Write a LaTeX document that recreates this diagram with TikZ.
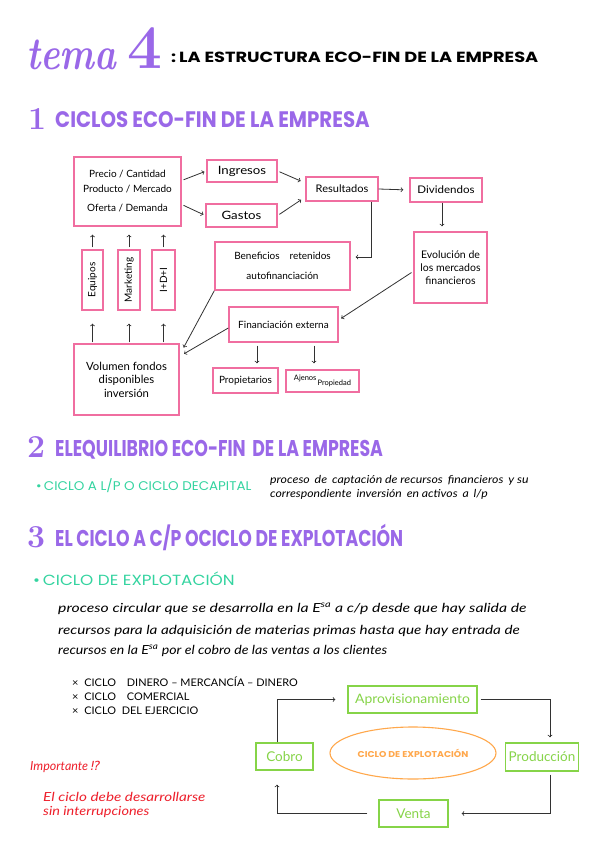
\documentclass[tikz,border=0pt]{standalone}
\usepackage{fontspec}
\newfontfamily\headfont{Poppins}
\newfontfamily\handfont{Lato}
\newfontfamily\symfont{DejaVu Sans}
\usetikzlibrary{calc,shapes.geometric}
\definecolor{temapurple}{RGB}{154,104,232}
\definecolor{boxpink}{RGB}{240,110,160}
\definecolor{cicloteal}{RGB}{52,212,160}
\definecolor{boxgreen}{RGB}{134,212,72}
\definecolor{elipseorange}{RGB}{255,168,76}
\definecolor{notared}{RGB}{238,32,44}
\definecolor{flechagray}{RGB}{50,50,50}

\begin{document}
\begin{tikzpicture}[x=1pt,y=-1pt,
  pinkbox/.style={draw=boxpink,line width=1.4pt,inner sep=2pt,align=center,font=\handfont\fontsize{10}{12}\selectfont},
  greenbox/.style={draw=boxgreen,line width=1.4pt,text=boxgreen,font=\handfont\fontsize{13.5}{15}\selectfont},
  flecha/.style={draw=flechagray,line width=0.8pt,->},
  numero/.style={anchor=base west,inner sep=0pt,text=temapurple,font=\bfseries\fontsize{32}{32}\selectfont},
  titulo/.style={anchor=base west,inner sep=0pt,text=temapurple,font=\headfont\bfseries\fontsize{19}{19}\selectfont},
  ciclo/.style={anchor=base west,inner sep=0pt,text=cicloteal,font=\headfont\fontsize{12}{12}\selectfont},
  nota/.style={anchor=base west,inner sep=0pt,font=\handfont\itshape\fontsize{12.5}{14}\selectfont},
  lista/.style={anchor=base west,inner sep=0pt,font=\handfont\fontsize{10.5}{12}\selectfont}]
\useasboundingbox (0,0) rectangle (599,848);
\fill[white] (0,0) rectangle (599,848);
\node[anchor=base west,inner sep=0pt,text=temapurple,font=\bfseries\itshape\fontsize{46}{46}\selectfont] (tema) at (26,70) {\scalebox{0.8}[1]{tema}};
\node[anchor=base west,inner sep=0pt,text=temapurple,font=\bfseries\fontsize{62}{62}\selectfont] (cuatro) at (127,69) {4};
\node[anchor=base west,inner sep=0pt,font=\headfont\bfseries\fontsize{14}{14}\selectfont] (temanombre) at (171,63) {\scalebox{1.27}[1.05]{:\,LA ESTRUCTURA ECO-FIN DE LA EMPRESA}};
\node[numero] (num1) at (28,129) {1};
\node[titulo] (sec1) at (55,128) {\scalebox{1.04}[1.18]{CICLOS ECO-FIN DE LA EMPRESA}};
\node[pinkbox,minimum width=107pt,minimum height=69pt] (mercado) at (127.5,191.5) {Precio / Cantidad\\[3pt]Producto / Mercado\\[7pt]Oferta / Demanda};
\node[pinkbox,minimum width=70pt,minimum height=22pt,font=\handfont\fontsize{11.5}{12}\selectfont] (ingresos) at (242,171) {\scalebox{1.15}[1]{Ingresos}};
\node[pinkbox,minimum width=71pt,minimum height=23pt,font=\handfont\fontsize{11.5}{12}\selectfont] (gastos) at (241.5,215.5) {\scalebox{1.15}[1]{Gastos}};
\node[pinkbox,minimum width=72pt,minimum height=24pt,font=\handfont\fontsize{10.5}{12}\selectfont] (resultados) at (342,189) {\scalebox{1.05}[1]{Resultados}};
\node[pinkbox,minimum width=72pt,minimum height=24pt,font=\handfont\fontsize{10.5}{12}\selectfont] (dividendos) at (446,190) {\scalebox{1.1}[1]{Dividendos}};
\node[pinkbox,minimum width=73pt,minimum height=71pt,font=\handfont\fontsize{10.5}{13}\selectfont] (evolucion) at (450.5,267.5) {Evolución de\\los mercados\\financieros};
\node[pinkbox,minimum width=135pt,minimum height=48pt] (beneficios) at (282.5,266) {Beneficios\quad retenidos\\[8pt]autofinanciación};
\node[pinkbox,minimum width=109pt,minimum height=35pt] (financiacion) at (283.5,324.5) {Financiación externa};
\node[pinkbox,minimum width=65pt,minimum height=25pt] (propietarios) at (245.5,380.5) {Propietarios};
\node[pinkbox,minimum width=73pt,minimum height=22pt,font=\handfont\fontsize{7.5}{8}\selectfont] (ajenos) at (322.5,381) {\raisebox{3pt}{Ajenos}\,\raisebox{-2.5pt}{Propiedad}};
\node[pinkbox,minimum width=105pt,minimum height=71pt,font=\handfont\fontsize{11.3}{13.5}\selectfont] (volumen) at (126.5,379.5) {Volumen fondos\\disponibles\\inversión};
\node[pinkbox,rotate=90,minimum width=60pt,minimum height=21pt] (equipos) at (92.5,280) {Equipos};
\node[pinkbox,rotate=90,minimum width=60pt,minimum height=22pt] (marketing) at (129,280) {Marketing};
\node[pinkbox,rotate=90,minimum width=60pt,minimum height=23pt] (imasd) at (163.5,280) {I+D+I};
\draw[flecha,shorten <=2pt,shorten >=2pt] ($(mercado.east)+(0,-11)$) -- (ingresos.west);
\draw[flecha,shorten <=2pt,shorten >=2pt] ($(mercado.east)+(0,13)$) -- (gastos.west);
\draw[flecha,shorten <=2pt,shorten >=5pt] (ingresos.east) -- ($(resultados.west)+(0,-6)$);
\draw[flecha,shorten <=2pt,shorten >=5pt] (gastos.east) -- ($(resultados.west)+(0,8)$);
\draw[flecha,shorten >=6pt] (resultados.east) -- (dividendos.west);
\draw[flecha,shorten >=5pt] ($(dividendos.south)+(-4,0)$) -- ($(evolucion.north)+(-8.5,0)$);
\draw[flecha,shorten >=5pt] ($(resultados.south)+(29,0)$) |- ($(beneficios.east)+(0,-9)$);
\draw[flecha,shorten <=1pt,shorten >=3pt] ($(evolucion.west)+(-1,4.5)$) -- ($(financiacion.east)+(0,-4.5)$);
\draw[flecha,shorten >=2pt] (beneficios.south west) -- ($(volumen.north east)+(3,6)$);
\draw[flecha,shorten >=5pt] ($(financiacion.west)+(0,3.5)$) -- ($(volumen.north east)+(0,13)$);
\draw[flecha,shorten <=3pt,shorten >=4pt] ($(financiacion.south)+(-26.5,0)$) -- ($(propietarios.north)+(11.5,0)$);
\draw[flecha,shorten <=3pt,shorten >=6pt] ($(financiacion.south)+(30.5,0)$) -- ($(ajenos.north)+(-8.5,0)$);
\draw[flecha,shorten <=2pt,shorten >=8pt] (equipos) -- (equipos |- mercado.south);
\draw[flecha,shorten <=2pt,shorten >=8pt] (marketing) -- (marketing |- mercado.south);
\draw[flecha,shorten <=2pt,shorten >=8pt] (imasd) -- (imasd |- mercado.south);
\draw[flecha,shorten <=1pt,shorten >=13pt] (volumen.north -| equipos) -- (equipos);
\draw[flecha,shorten <=1pt,shorten >=13pt] (volumen.north -| marketing) -- (marketing);
\draw[flecha,shorten <=1pt,shorten >=13pt] (volumen.north -| imasd) -- (imasd);
\node[numero] (num2) at (27,457) {2};
\node[titulo] (sec2) at (55,456) {\scalebox{0.913}[1.2]{ELEQUILIBRIO ECO-FIN\, DE LA EMPRESA}};
\node[ciclo] (largo) at (36,490) {\scalebox{1.12}[1.05]{•\,CICLO A L/P O CICLO DECAPITAL}};
\node[nota,font=\handfont\itshape\fontsize{11}{12}\selectfont] (largo1) at (270,483) {\scalebox{1.12}[1]{proceso\, de\, captación de recursos\, financieros\, y su}};
\node[nota,font=\handfont\itshape\fontsize{11}{12}\selectfont] (largo2) at (270,497) {\scalebox{1.11}[1]{correspondiente\, inversión\, en activos\, a\, l/p}};
\node[numero] (num3) at (27,547) {3};
\node[titulo] (sec3) at (55,546) {\scalebox{0.909}[1.2]{EL CICLO A C/P OCICLO DE EXPLOTACIÓN}};
\node[ciclo,font=\headfont\fontsize{14}{14}\selectfont] (explota) at (33,585) {\scalebox{1.2}[1.05]{•\,CICLO DE EXPLOTACIÓN}};
\node[nota] (parrafo1) at (58,612) {\scalebox{1.26}[1]{proceso circular que se desarrolla en la E\textsuperscript{sa} a c/p desde que hay salida de}};
\node[nota] (parrafo2) at (58,634) {\scalebox{1.22}[1]{recursos para la adquisición de materias primas hasta que hay entrada de}};
\node[nota] (parrafo3) at (58,654) {\scalebox{1.13}[1]{recursos en la E\textsuperscript{sa} por el cobro de las ventas a los clientes}};
\node[lista] (lista1) at (72,686) {\scalebox{1.04}[1]{×\; CICLO\quad DINERO – MERCANCÍA – DINERO}};
\node[lista] (lista2) at (72,700) {\scalebox{1.04}[1]{×\; CICLO\quad COMERCIAL}};
\node[lista] (lista3) at (72,714) {\scalebox{1.04}[1]{×\; CICLO\; DEL EJERCICIO}};
\node[nota,text=notared] (importante) at (30,770) {Importante {\symfont ⁉}};
\node[nota,text=notared] (nota1) at (43,801) {\scalebox{1.22}[1]{El ciclo debe desarrollarse}};
\node[nota,text=notared] (nota2) at (43,815) {\scalebox{1.16}[1]{sin interrupciones}};
\node[greenbox,minimum width=129pt,minimum height=27pt,font=\handfont\fontsize{13}{15}\selectfont] (aprov) at (412.5,699.5) {\scalebox{1.07}[1]{Aprovisionamiento}};
\node[greenbox,minimum width=72pt,minimum height=28pt] (prod) at (542,757) {Producción};
\node[greenbox,minimum width=69pt,minimum height=27pt] (venta) at (413.5,813.5) {Venta};
\node[greenbox,minimum width=57pt,minimum height=27pt] (cobro) at (284.5,756.5) {Cobro};
\node[ellipse,draw=elipseorange,line width=1.1pt,minimum width=129pt,minimum height=52pt,text=elipseorange,font=\headfont\bfseries\fontsize{8.5}{9}\selectfont] (cicloexp) at (413,753) {\scalebox{1.1}[1]{CICLO DE EXPLOTACIÓN}};
\draw[flecha,shorten >=12pt] ($(cobro.north)+(-7.5,0)$) |- (aprov.west);
\draw[flecha,shorten <=3pt,shorten >=5pt] (aprov.east) -| ($(prod.north)+(8,0)$);
\draw[flecha,shorten <=3pt,shorten >=13pt] ($(prod.south)+(8,0)$) |- (venta.east);
\draw[flecha,shorten <=11pt,shorten >=14pt] (venta.west) -| ($(cobro.south)+(-7.5,0)$);
\end{tikzpicture}
\end{document}
